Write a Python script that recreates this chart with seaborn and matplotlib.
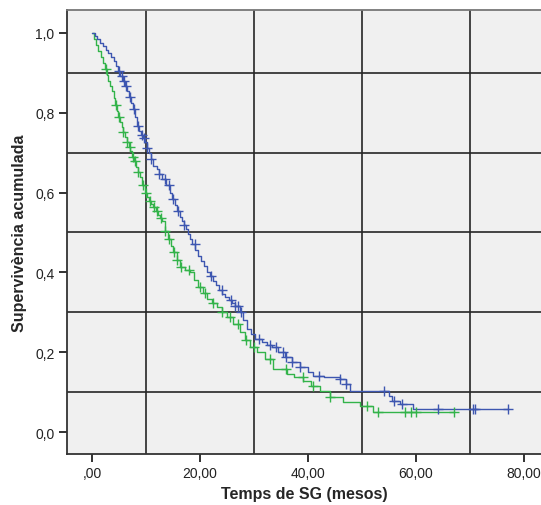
import numpy as np
import pandas as pd
import seaborn as sns
from matplotlib import pyplot as plt
from matplotlib.ticker import FuncFormatter

# grup 1 (blau): temps d'esdeveniment i supervivencia acumulada
t_blue = [0, 0.5, 1.0, 1.5, 2.0, 2.5, 3.0, 3.5, 4.0, 4.5, 4.8, 5.2, 5.7, 6.1, 6.5,
          6.9, 7.2, 7.5, 7.9, 8.3, 8.7, 9.0, 9.4, 9.8, 10.2, 10.5, 10.9, 11.3, 12.0,
          12.5, 13.0, 13.7, 14.4, 14.9, 15.3, 15.8, 16.3, 16.7, 17.0, 17.4, 17.8,
          18.2, 18.6, 19.1, 19.6, 20.1, 20.7, 21.3, 21.9, 22.5, 23.0, 23.6, 24.1,
          24.7, 25.3, 25.9, 26.5, 27.4, 28.0, 28.7, 29.4, 30.2, 31.5, 32.4, 33.3,
          34.5, 35.7, 37.0, 38.5, 40.0, 40.9, 43.0, 45.9, 47.0, 47.8, 55.0, 55.5,
          57.0, 59.4]
s_blue = [1.0, 0.992, 0.984, 0.976, 0.967, 0.958, 0.949, 0.94, 0.93, 0.918, 0.905,
          0.893, 0.88, 0.868, 0.855, 0.84, 0.825, 0.81, 0.79, 0.767, 0.755, 0.745,
          0.736, 0.727, 0.713, 0.70, 0.683, 0.667, 0.66, 0.647, 0.635, 0.618, 0.60,
          0.585, 0.57, 0.555, 0.54, 0.53, 0.52, 0.508, 0.496, 0.483, 0.47, 0.455,
          0.44, 0.428, 0.415, 0.402, 0.39, 0.379, 0.368, 0.357, 0.346, 0.338, 0.33,
          0.323, 0.316, 0.30, 0.28, 0.258, 0.245, 0.233, 0.225, 0.219, 0.213, 0.20,
          0.188, 0.175, 0.163, 0.15, 0.14, 0.137, 0.133, 0.12, 0.103, 0.09, 0.078,
          0.07, 0.058]
cens_blue = [5.0, 5.5, 6.0, 6.3, 7.0, 7.8, 8.5, 9.2, 9.6, 10.2, 11.0, 12.5, 13.5,
             14.2, 15.0, 16.0, 17.0, 19.0, 22.0, 24.0, 25.8, 26.5, 27.0, 27.6, 31.0,
             33.0, 34.0, 35.3, 36.0, 37.0, 38.5, 42.0, 46.0, 47.0, 54.0, 56.0, 57.5,
             64.0, 70.5, 71.0, 77.0]

# grup 2 (verd)
t_green = [0, 0.4, 0.8, 1.2, 1.6, 2.0, 2.4, 2.7, 3.0, 3.4, 3.7, 4.0, 4.3, 4.6, 4.8,
           5.2, 5.5, 5.8, 6.1, 6.5, 6.8, 7.1, 7.4, 7.8, 8.2, 8.6, 8.9, 9.3, 9.8,
           10.1, 10.5, 10.9, 11.3, 11.8, 12.2, 12.6, 13.0, 13.5, 14.1, 14.6, 15.0,
           15.7, 16.3, 17.2, 18.1, 18.8, 19.6, 20.5, 21.3, 22.2, 23.1, 24.0, 25.0,
           26.2, 27.4, 28.3, 29.3, 30.6, 32.0, 33.5, 36.1, 37.5, 39.1, 40.5, 42.2,
           44.0, 46.5, 49.6, 52.0]
s_green = [1.0, 0.985, 0.97, 0.955, 0.94, 0.925, 0.91, 0.895, 0.88, 0.868, 0.855,
           0.838, 0.82, 0.805, 0.79, 0.778, 0.765, 0.752, 0.74, 0.727, 0.715, 0.703,
           0.69, 0.678, 0.665, 0.652, 0.64, 0.62, 0.60, 0.59, 0.58, 0.572, 0.564,
           0.555, 0.545, 0.537, 0.529, 0.505, 0.484, 0.465, 0.45, 0.43, 0.414, 0.405,
           0.40, 0.38, 0.363, 0.348, 0.333, 0.323, 0.313, 0.30, 0.288, 0.27, 0.25,
           0.23, 0.213, 0.20, 0.183, 0.158, 0.145, 0.137, 0.128, 0.115, 0.103, 0.088,
           0.075, 0.065, 0.05]
cens_green = [2.5, 4.5, 5.0, 5.8, 6.5, 7.0, 7.6, 8.0, 8.6, 9.5, 10.0, 10.8, 11.5, 12.0,
              12.8, 13.6, 14.3, 15.2, 15.8, 16.5, 18.0, 20.0, 21.0, 22.5, 24.0, 25.5,
              27.0, 28.5, 30.0, 33.0, 36.0, 39.0, 41.0, 44.0, 51.0, 53.0, 58.0, 59.0,
              60.0, 67.0]

blue = '#3d56b0'
green = '#33b34a'


def steps(t, s, cens):
    t = np.array(t)
    s = np.array(s)
    idx = np.searchsorted(t, cens, side='right') - 1
    end = max(max(cens), t[-1])
    line = pd.DataFrame({'t': np.append(t, end), 's': np.append(s, s[-1])})
    marks = pd.DataFrame({'t': cens, 's': s[idx]})
    return line, marks


sns.set_style('white')
plt.rcParams['font.family'] = ['Liberation Sans', 'DejaVu Sans']

fig = plt.figure(figsize=(5.41, 5.06), dpi=100)
ax = fig.add_axes([67 / 541, 51 / 506, 1 - 67 / 541, (455 - 11) / 506])
ax.set_facecolor('#f0f0f0')

for t, s, cens, col in [(t_green, s_green, cens_green, green),
                        (t_blue, s_blue, cens_blue, blue)]:
    line, marks = steps(t, s, cens)
    sns.lineplot(data=line, x='t', y='s', ax=ax, color=col, lw=1.0,
                 drawstyle='steps-post', estimator=None, sort=False, zorder=3)
    sns.scatterplot(data=marks, x='t', y='s', ax=ax, color=col, marker='+',
                    s=60, linewidth=1.0, zorder=4)

ax.set_xlim(-4.63, 83.15)
ax.set_ylim(-0.0551, 1.0576)

ax.set_xticks([0, 20, 40, 60, 80])
ax.set_xticks([10, 30, 50, 70], minor=True)
ax.set_yticks([0, 0.2, 0.4, 0.6, 0.8, 1.0])
ax.set_yticks([0.1, 0.3, 0.5, 0.7, 0.9], minor=True)
ax.xaxis.set_major_formatter(FuncFormatter(
    lambda v, p: ',00' if v == 0 else f'{v:.2f}'.replace('.', ',')))
ax.yaxis.set_major_formatter(FuncFormatter(lambda v, p: f'{v:.1f}'.replace('.', ',')))
ax.grid(which='minor', color='#262626', lw=1.2, zorder=1)
ax.grid(which='major', visible=False)
ax.tick_params(which='minor', length=0)
ax.tick_params(which='major', direction='out', length=6, width=1.3, color='#222222',
               labelsize=10, labelcolor='#222222', pad=3, bottom=True, left=True)

for side in ['left', 'bottom']:
    ax.spines[side].set_color('#333333')
    ax.spines[side].set_linewidth(1.3)
ax.spines['top'].set_color('#777777')
ax.spines['top'].set_linewidth(1.3)
ax.spines['right'].set_visible(False)

ax.set_xlabel('Temps de SG (mesos)', fontsize=11.5, fontweight='bold', labelpad=4)
ax.set_ylabel('Supervivència acumulada', fontsize=11.5, fontweight='bold', labelpad=6)
ax.set_axisbelow(True)

fig.savefig('out.png', dpi=100)
